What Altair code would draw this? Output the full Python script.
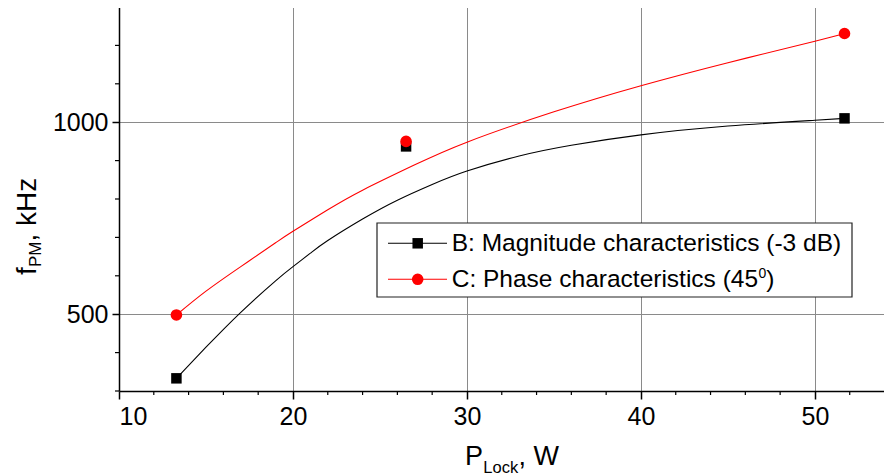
import altair as alt
import pandas as pd

# ---- data ----
p_lock = [13.3, 26.5, 51.7]
f_mag = [333, 937, 1010]      # B: magnitude characteristics (-3 dB)
f_phase = [498, 950, 1231]    # C: phase characteristics (45°)

# fitted curves
mag_fit_x = [13.3, 15, 17, 19, 20, 21, 22, 24, 26, 28, 30, 33, 36, 40, 45, 50, 51.7]
mag_fit_y = [333, 414, 505, 587, 624, 659, 692, 748, 797, 838, 873, 912, 940, 967, 990, 1005, 1010]
phase_fit_x = [13.3, 15, 17, 19, 20, 22, 24, 27, 30, 35, 40, 45, 50, 51.7]
phase_fit_y = [498, 560, 624, 686, 716, 772, 823, 889, 948, 1027, 1095, 1155, 1211, 1231]

x_major = [10, 20, 30, 40, 50]
x_minor = [12, 14, 16, 18, 22, 24, 26, 28, 32, 34, 36, 38, 42, 44, 46, 48, 52]
y_major = [500, 1000]
y_minor = [300, 400, 600, 700, 800, 900, 1100, 1200, 1300]

legend_b = "B: Magnitude characteristics (-3 dB)"
legend_c = "C: Phase characteristics (45"
legend_c_sup = "0"
legend_c_end = ")"

# ---- layout ----
W, H = 765, 384
XDOM = [10, 53.97]
YDOM = [300, 1300]
FONT = "Liberation Sans"

xs = alt.Scale(domain=XDOM, nice=False, zero=False)
ys = alt.Scale(domain=YDOM, nice=False, zero=False)

pts = pd.DataFrame({"x": p_lock, "b": f_mag, "c": f_phase})
mag_fit = pd.DataFrame({"x": mag_fit_x, "y": mag_fit_y})
phase_fit = pd.DataFrame({"x": phase_fit_x, "y": phase_fit_y})
ONE = pd.DataFrame({"k": [0]})

x_axis = alt.Axis(values=x_major, grid=True, gridColor="#8a8a8a", gridWidth=1,
                  domainColor="black", domainWidth=1.5, tickColor="black",
                  tickWidth=1.5, tickSize=8, labelFontSize=25, labelFont=FONT,
                  labelColor="black", labelPadding=5, format="d", title=None)
y_axis = alt.Axis(values=y_major, grid=True, gridColor="#8a8a8a", gridWidth=1,
                  domainColor="black", domainWidth=1.5, tickColor="black",
                  tickWidth=1.5, tickSize=7, labelFontSize=25, labelFont=FONT,
                  labelColor="black", labelPadding=4, format="d", title=None)


def X(field):
    return alt.X(field, scale=xs, axis=x_axis)


def Y(field):
    return alt.Y(field, scale=ys, axis=y_axis)


xminor = alt.Chart(pd.DataFrame({"v": x_minor})).mark_rule(color="black", strokeWidth=1.2).encode(
    x=X("v:Q"), y=alt.value(H), y2=alt.value(H + 4))
yminor = alt.Chart(pd.DataFrame({"v": y_minor})).mark_rule(color="black", strokeWidth=1.2).encode(
    y=Y("v:Q"), x=alt.value(-4), x2=alt.value(0))

top_border = alt.Chart(ONE).mark_rule(color="black", strokeWidth=1.5).encode(
    x=alt.value(-4), x2=alt.value(W), y=alt.value(0))

mag_line = alt.Chart(mag_fit).mark_line(color="black", strokeWidth=1.1, interpolate="natural").encode(
    x=X("x:Q"), y=Y("y:Q"))
phase_line = alt.Chart(phase_fit).mark_line(color="#ff0000", strokeWidth=1.1, interpolate="natural").encode(
    x=X("x:Q"), y=Y("y:Q"))

mag_pts = alt.Chart(pts).mark_point(shape="square", filled=True, color="black", size=110, opacity=1).encode(
    x=X("x:Q"), y=Y("b:Q"))
phase_pts = alt.Chart(pts).mark_point(shape="circle", filled=True, color="#ff0000", size=135, opacity=1).encode(
    x=X("x:Q"), y=Y("c:Q"))


def txt(s, x, y, size, angle=0, align="left", baseline="alphabetic"):
    return alt.Chart(ONE).mark_text(text=s, fontSize=size, font=FONT, color="black",
                                    align=align, baseline=baseline, angle=angle).encode(
        x=alt.value(x), y=alt.value(y))


# legend box
LX0, LX1, LY0, LY1 = 258, 733, 216, 290
legend_box = alt.Chart(ONE).mark_rect(fill="white", stroke="#222", strokeWidth=1.2).encode(
    x=alt.value(LX0), x2=alt.value(LX1), y=alt.value(LY0), y2=alt.value(LY1))
R1, R2 = 236.3, 272.3
leg_line_b = alt.Chart(ONE).mark_rule(color="black", strokeWidth=1.1).encode(
    x=alt.value(269), x2=alt.value(328), y=alt.value(R1))
leg_line_c = alt.Chart(ONE).mark_rule(color="#ff0000", strokeWidth=1.1).encode(
    x=alt.value(269), x2=alt.value(328), y=alt.value(R2))
leg_pt_b = alt.Chart(ONE).mark_point(shape="square", filled=True, color="black", size=110, opacity=1).encode(
    x=alt.value(298.7), y=alt.value(R1))
leg_pt_c = alt.Chart(ONE).mark_point(shape="circle", filled=True, color="#ff0000", size=135, opacity=1).encode(
    x=alt.value(298.7), y=alt.value(R2))
LFS = 24.5
leg_t1 = txt(legend_b, 332.7, 243.7, LFS)
leg_t2 = txt(legend_c, 332.7, 280.3, LFS)
leg_t2s = txt(legend_c_sup, 639.5, 271, 14)
leg_t2e = txt(legend_c_end, 647.3, 280.3, LFS)

# axis titles with subscripts
xt1 = txt("P", 346, 458, 27)
xt2 = txt("Lock", 364.3, 466, 16.5)
xt3 = txt(", W", 399.5, 458, 27)

yt1 = txt("f", -83, 268, 28, angle=270)
yt2 = txt("PM", -78, 260, 17, angle=270)
yt3 = txt(", kHz", -83, 234.5, 28, angle=270)

chart = alt.layer(
    xminor, yminor, top_border,
    mag_line, phase_line, mag_pts, phase_pts,
    legend_box, leg_line_b, leg_line_c, leg_pt_b, leg_pt_c,
    leg_t1, leg_t2, leg_t2s, leg_t2e,
    xt1, xt2, xt3, yt1, yt2, yt3,
).properties(
    width=W, height=H,
    autosize=alt.AutoSizeParams(type="none"),
    padding={"left": 111, "top": -1, "right": 0, "bottom": 84},
).configure_view(stroke=None)

chart.save("out.html", embed_options={"renderer": "svg", "actions": False})
